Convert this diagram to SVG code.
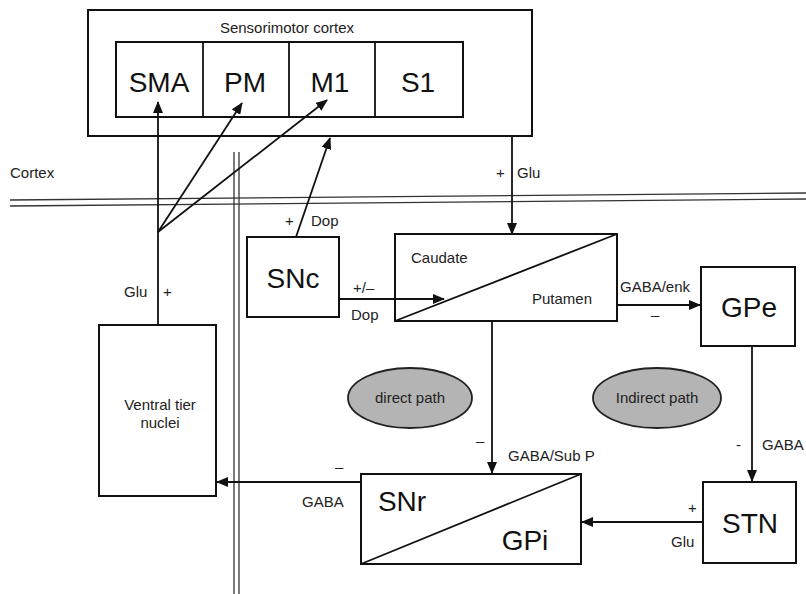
<svg xmlns="http://www.w3.org/2000/svg" width="806" height="594" viewBox="0 0 806 594">
<defs>
<marker id="ah" markerWidth="12" markerHeight="10" refX="11" refY="5" orient="auto" markerUnits="userSpaceOnUse">
<path d="M0,0 L12,5 L0,10 Z" fill="#111"/>
</marker>
</defs>
<style>
.box{fill:#fff;stroke:#111;stroke-width:2}
.ln{fill:none;stroke:#111;stroke-width:1.8}
.arr{fill:none;stroke:#111;stroke-width:1.8;marker-end:url(#ah)}
.big{font-family:"Liberation Sans",Arial,sans-serif;font-size:28px;fill:#111;text-anchor:middle}
.sm{font-family:"Liberation Sans",Arial,sans-serif;font-size:15px;fill:#222}
.mid{text-anchor:middle}
.ell{fill:#b4b4b4;stroke:#222;stroke-width:1.8}
.bound{fill:none;stroke:#333;stroke-width:1.3}
</style>
<rect width="806" height="594" fill="#fff"/>

<g id="boundaries">
<line class="bound" x1="10" y1="200" x2="806" y2="193"/>
<line class="bound" x1="10" y1="206" x2="806" y2="199"/>
<line class="bound" x1="234" y1="152" x2="234" y2="594"/>
<line class="bound" x1="239" y1="152" x2="239" y2="594"/>
<text class="sm" x="10" y="178">Cortex</text>
</g>

<g id="cortex">
<rect class="box" x="88" y="10" width="444" height="126"/>
<text class="sm mid" x="287" y="33">Sensorimotor cortex</text>
<rect class="box" x="116" y="42" width="347" height="75"/>
<line class="ln" x1="203" y1="42" x2="203" y2="117"/>
<line class="ln" x1="289" y1="42" x2="289" y2="117"/>
<line class="ln" x1="375" y1="42" x2="375" y2="117"/>
</g>
<g id="SMA"><text class="big" x="159" y="92">SMA</text></g>
<g id="PM"><text class="big" x="245" y="92">PM</text></g>
<g id="M1"><text class="big" x="330" y="92">M1</text></g>
<g id="S1"><text class="big" x="418" y="92">S1</text></g>

<g id="ventral">
<rect class="box" x="99" y="325" width="117" height="171"/>
<text class="sm mid" x="160" y="410">Ventral tier</text>
<text class="sm mid" x="160" y="428">nuclei</text>
</g>

<g id="SNc">
<rect class="box" x="247" y="237" width="92" height="80"/>
<text class="big" x="293" y="288">SNc</text>
</g>

<g id="striatum">
<rect class="box" x="395" y="234" width="222" height="87"/>
<line class="ln" x1="395" y1="321" x2="617" y2="234"/>
<text class="sm" x="411" y="263">Caudate</text>
<text class="sm" x="532" y="304">Putamen</text>
</g>

<g id="GPe">
<rect class="box" x="701" y="267" width="94" height="79"/>
<text class="big" x="749" y="317">GPe</text>
</g>

<g id="STN">
<rect class="box" x="703" y="482" width="93" height="81"/>
<text class="big" x="750" y="533">STN</text>
</g>

<g id="SNrGPi">
<rect class="box" x="361" y="474" width="220" height="90"/>
<line class="ln" x1="361" y1="564" x2="581" y2="474"/>
<text class="big" x="402" y="511">SNr</text>
<text class="big" x="525" y="550">GPi</text>
</g>

<g id="direct">
<ellipse class="ell" cx="410" cy="398" rx="62" ry="30"/>
<text class="sm mid" x="410" y="403">direct path</text>
</g>
<g id="indirect">
<ellipse class="ell" cx="657" cy="398" rx="64" ry="30"/>
<text class="sm mid" x="657" y="403">Indirect path</text>
</g>

<g id="connectors">
<line class="arr" x1="158" y1="325" x2="158" y2="102"/>
<line class="arr" x1="158" y1="232" x2="242" y2="103"/>
<line class="arr" x1="158" y1="232" x2="327" y2="100"/>
<line class="arr" x1="296" y1="237" x2="330" y2="138"/>
<line class="arr" x1="512" y1="136" x2="512" y2="234"/>
<line class="arr" x1="339" y1="299" x2="444" y2="299"/>
<line class="arr" x1="617" y1="305" x2="700" y2="305"/>
<line class="arr" x1="752" y1="346" x2="752" y2="481"/>
<line class="arr" x1="703" y1="522" x2="582" y2="522"/>
<line class="arr" x1="492" y1="321" x2="492" y2="473"/>
<line class="arr" x1="361" y1="482" x2="217" y2="482"/>

<text class="sm" x="124" y="297">Glu</text>
<text class="sm" x="163" y="297">+</text>
<text class="sm" x="285" y="226">+</text>
<text class="sm" x="311" y="226">Dop</text>
<text class="sm" x="496" y="178">+</text>
<text class="sm" x="517" y="178">Glu</text>
<text class="sm" x="353" y="293">+/–</text>
<text class="sm" x="351" y="320">Dop</text>
<text class="sm" x="620" y="292">GABA/enk</text>
<text class="sm" x="651" y="320">–</text>
<text class="sm" x="736" y="450">-</text>
<text class="sm" x="762" y="450">GABA</text>
<text class="sm" x="688" y="513">+</text>
<text class="sm" x="671" y="547">Glu</text>
<text class="sm" x="476" y="446">–</text>
<text class="sm" x="508" y="461">GABA/Sub P</text>
<text class="sm" x="335" y="472">–</text>
<text class="sm" x="302" y="507">GABA</text>
</g>
</svg>
